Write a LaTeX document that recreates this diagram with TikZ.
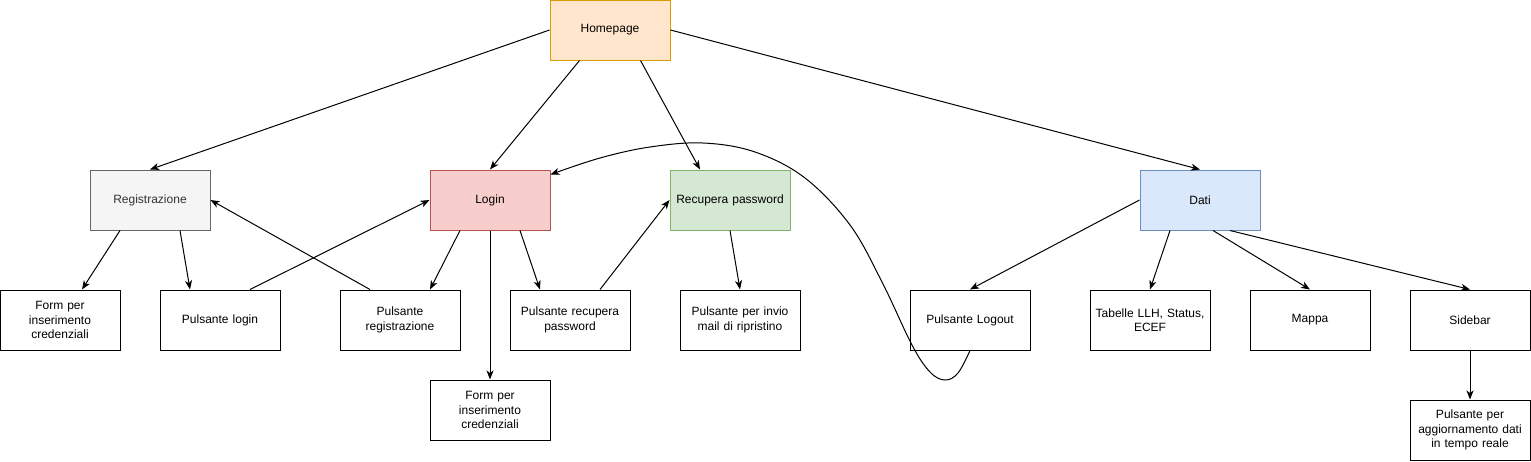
\documentclass[tikz,border=0pt]{standalone}
\usepackage{fontspec}
\setmainfont{Liberation Sans}
\usetikzlibrary{arrows.meta,calc}
\definecolor{homeF}{HTML}{FFE6CC}\definecolor{homeD}{HTML}{D79B00}
\definecolor{regF}{HTML}{F5F5F5}\definecolor{regD}{HTML}{666666}\definecolor{regT}{HTML}{333333}
\definecolor{logF}{HTML}{F8CECC}\definecolor{logD}{HTML}{B85450}
\definecolor{recF}{HTML}{D5E8D4}\definecolor{recD}{HTML}{82B366}
\definecolor{datF}{HTML}{DAE8FC}\definecolor{datD}{HTML}{6C8EBF}
\begin{document}
\begin{tikzpicture}[x=1pt,y=-1pt,
  box/.style={draw=black,fill=white,line width=1pt,minimum width=120pt,minimum height=60pt,
    inner sep=2pt,align=center,text width=114pt,font=\fontsize{12}{14.5}\selectfont},
  conn/.style={line width=1pt,-{Stealth[length=9pt,width=7pt,inset=2.5pt]}}]
\useasboundingbox (0,0) rectangle (1531,461);
% top level
\node[box,fill=homeF,draw=homeD] (home) at (610,30) {Homepage};
\node[box,fill=regF,draw=regD,text=regT] (reg) at (150,200) {Registrazione};
\node[box,fill=logF,draw=logD] (login) at (490,200) {Login};
\node[box,fill=recF,draw=recD] (rec) at (730,200) {Recupera password};
\node[box,fill=datF,draw=datD] (dati) at (1200,200) {Dati};
% second row
\node[box] (form1) at (60,320) {Form per\\inserimento\\credenziali};
\node[box] (plogin) at (220,320) {Pulsante login};
\node[box] (preg) at (400,320) {Pulsante\\registrazione};
\node[box] (precup) at (570,320) {Pulsante recupera\\password};
\node[box] (pinvio) at (740,320) {Pulsante per invio\\mail di ripristino};
\node[box] (logout) at (970,320) {Pulsante Logout};
\node[box] (tab) at (1150,320) {Tabelle LLH, Status,\\ECEF};
\node[box] (mappa) at (1310,320) {Mappa};
\node[box] (side) at (1470,320) {Sidebar};
% third row
\node[box] (form2) at (490,410) {Form per\\inserimento\\credenziali};
\node[box] (agg) at (1470,430) {Pulsante per\\aggiornamento dati\\in tempo reale};
% connectors
\draw[conn] (home.west) -- (reg.north);
\draw[conn] ([xshift=30pt]home.south west) -- (login.north);
\draw[conn] ([xshift=-30pt]home.south east) -- ([xshift=-30pt]rec.north);
\draw[conn] (home.east) -- (dati.north);
\draw[conn] ([xshift=-30pt]reg.south) -- ([xshift=22pt]form1.north);
\draw[conn] ([xshift=30pt]reg.south) -- ([xshift=-30pt]plogin.north);
\draw[conn] ([xshift=30pt]plogin.north) -- (login.west);
\draw[conn] ([xshift=-30pt]preg.north) -- (reg.east);
\draw[conn] ([xshift=-30pt]login.south) -- ([xshift=30pt]preg.north);
\draw[conn] (login.south) -- (form2.north);
\draw[conn] ([xshift=30pt]login.south) -- ([xshift=-30pt]precup.north);
\draw[conn] ([xshift=30pt]precup.north) -- (rec.west);
\draw[conn] (rec.south) -- (pinvio.north);
\draw[conn] (dati.west) -- (logout.north);
\draw[conn] ([xshift=-30pt]dati.south) -- (tab.north);
\draw[conn] ([xshift=13pt]dati.south) -- (mappa.north);
\draw[conn] ([xshift=30pt]dati.south) -- (side.north);
\draw[conn] (side.south) -- (agg.north);
% curved connector from Pulsante Logout back to Login
\draw[conn] plot[smooth,tension=0.6] coordinates {(logout.south) (958,373) (945,380) (930,372) (912,345) (882,282) (850,225) (805,178) (755,152) (703,143) (650,147) (600,158) ([yshift=-5pt]login.north east)};
\end{tikzpicture}
\end{document}
